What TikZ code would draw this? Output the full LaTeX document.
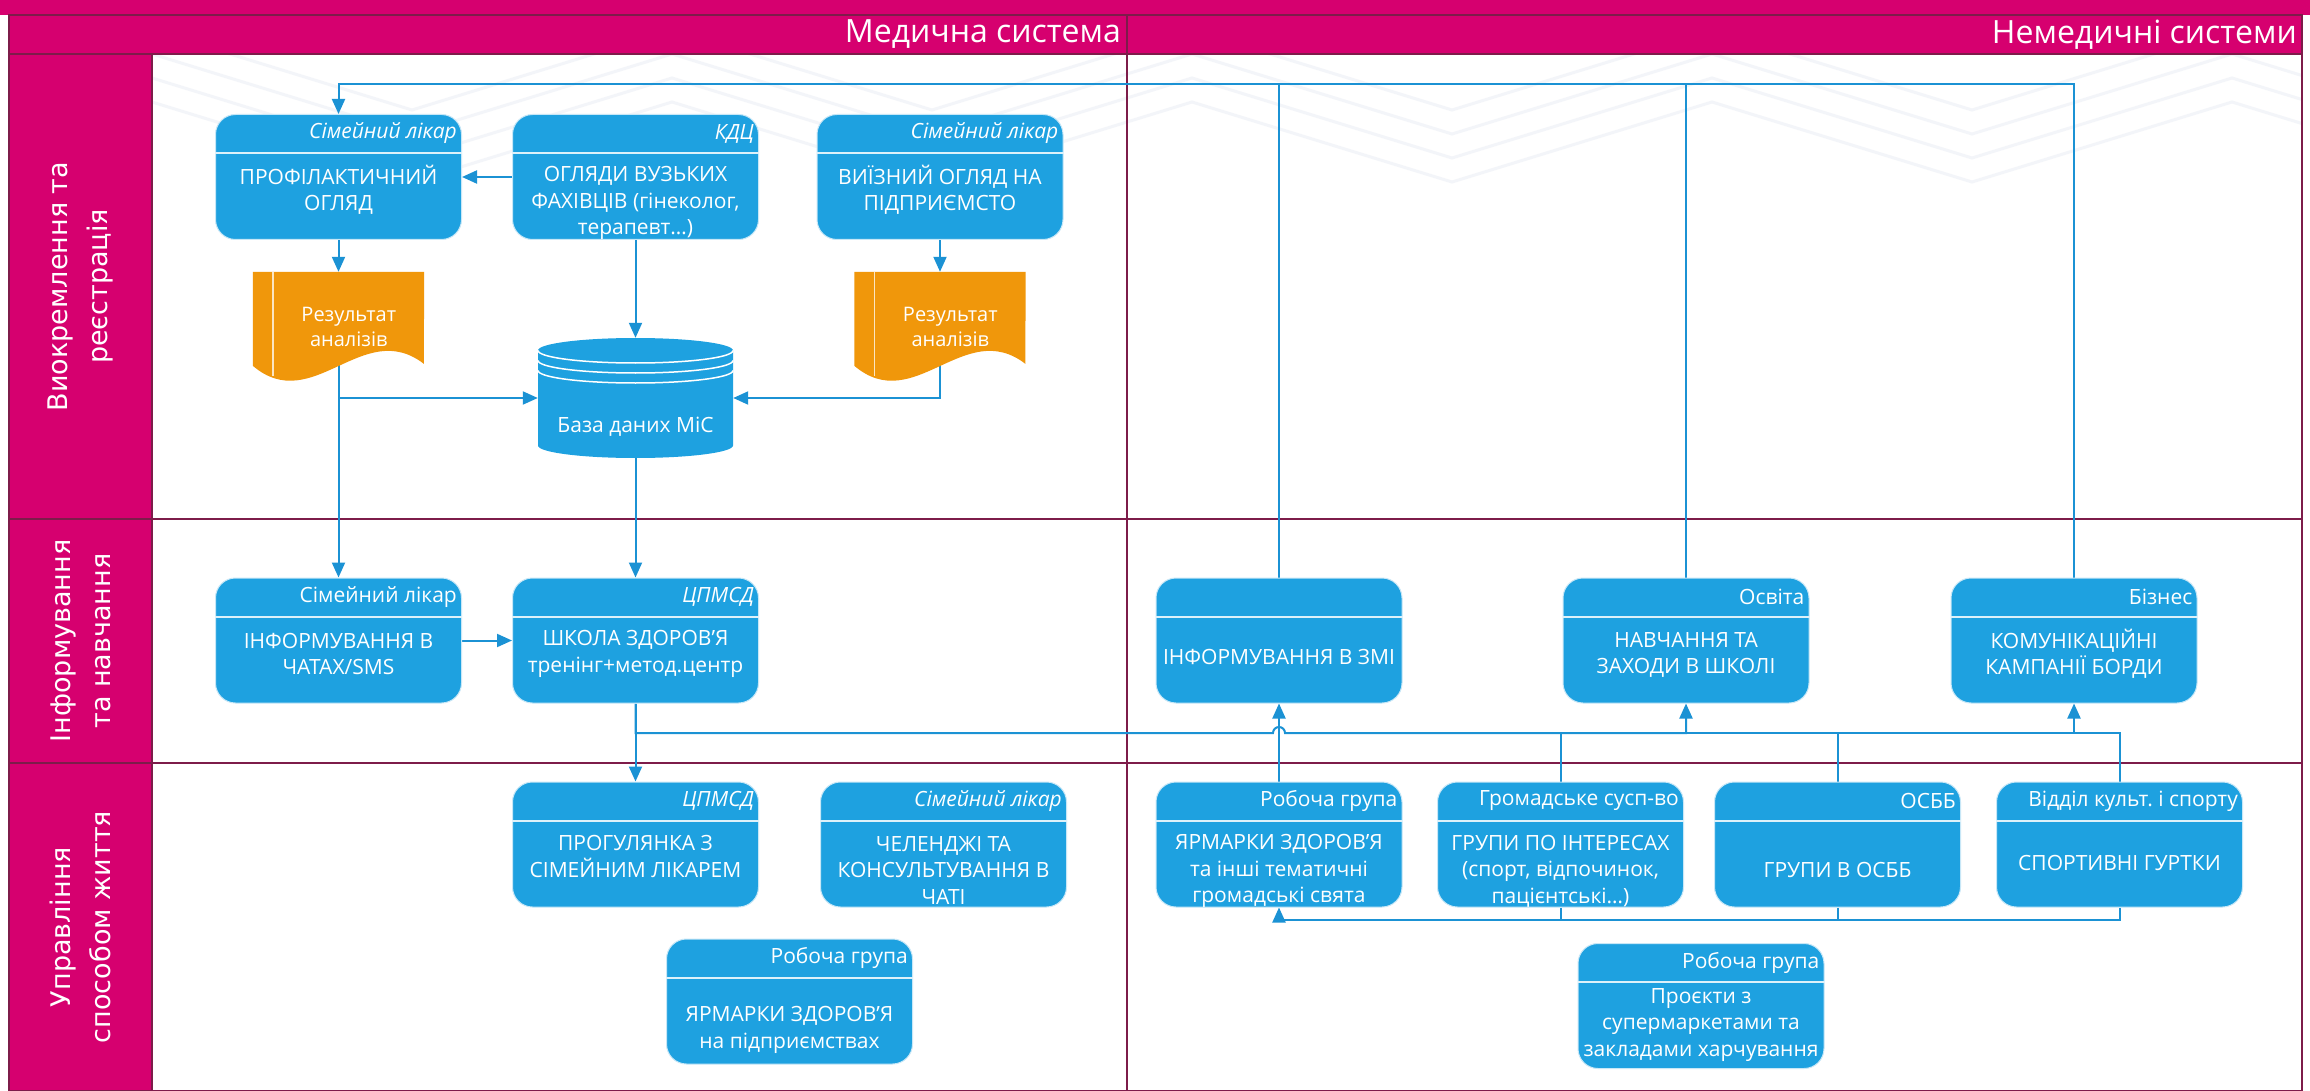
\documentclass[tikz,border=0pt]{standalone}
\usepackage{fontspec}
\setmainfont{Open Sans}
\newfontfamily\lanefont{DejaVu Sans}
\usetikzlibrary{arrows.meta}
\usetikzlibrary{positioning, calc}
\pgfdeclarelayer{canvas}
\pgfdeclarelayer{background}
\pgfsetlayers{canvas,background,main}
\frenchspacing

\definecolor{lanepink}{RGB}{214,0,111}
\definecolor{laneline}{RGB}{125,28,74}
\definecolor{boxblue}{RGB}{30,161,224}
\definecolor{connblue}{RGB}{27,146,212}
\definecolor{docorange}{RGB}{240,151,11}
\definecolor{chevron}{RGB}{243,245,249}

\tikzset{
  laneframe/.style={draw=laneline, line width=1.5pt},
  lanelabel/.style={text=white, rotate=90, align=center, inner sep=0pt,
    font=\lanefont\fontsize{27}{40}\selectfont},
  systitle/.style={text=white, anchor=east, inner sep=0pt,
    font=\fontsize{32}{38}\selectfont},
  procnode/.style={fill=boxblue, draw=white!75!boxblue, line width=1pt,
    rounded corners=20pt, minimum width=246pt, minimum height=125pt, inner sep=0pt},
  divline/.style={draw=white!85!boxblue, line width=2pt},
  headtext/.style={text=white, anchor=east, inner sep=0pt,
    font=\fontsize{21}{26.5}\selectfont},
  bodytext/.style={text=white, align=center, inner sep=0pt,
    font=\fontsize{21}{26.5}\selectfont},
  docnode/.style={minimum width=171pt, minimum height=108pt, inner sep=0pt},
  doctext/.style={text=white, align=center, inner sep=0pt,
    font=\fontsize{20}{25}\selectfont},
  dbnode/.style={minimum width=195pt, minimum height=120pt, inner sep=0pt},
  conn/.style={draw=connblue, line width=2pt},
  arr/.style={-{Triangle[length=15pt,width=13pt]}}
}

% box with header strip: name, centre, header, body, text drop
\newcommand{\procbox}[5]{%
  \node[procnode] (#1) at (#2) {};
  \draw[divline] ([yshift=-39pt]#1.north west) -- ([yshift=-39pt]#1.north east);
  \node[headtext] (#1-h) at ([xshift=-5pt,yshift=-19.5pt]#1.north east) {#3};
  \node[bodytext] (#1-b) at ([yshift=-#5pt]#1.center) {#4};
}

% document with wavy bottom: name, centre, text
\newcommand{\docshape}[3]{%
  \node[docnode] (#1) at (#2) {};
  \fill[docorange] (#1.north west) -- (#1.north east) -- ($(#1.north west)+(171,92)$)
    .. controls ($(#1.north west)+(110,45)$) and ($(#1.north west)+(60,145)$) .. ($(#1.north west)+(0,94)$) -- cycle;
  \draw[white!75!docorange, line width=1.5pt] ($(#1.north west)+(20,0)$) -- ($(#1.north west)+(20,104)$);
  \node[doctext] (#1-t) at ($(#1.north west)+(96,55)$) {#3};
}

\begin{document}
\begin{tikzpicture}[x=1pt,y=-1pt]
  \useasboundingbox (0,0) rectangle (2310,1091);

  % LANES
  \begin{pgfonlayer}{canvas}
    \fill[white] (0,0) rectangle (2310,1091);
    \begin{scope}
      \clip (152,54) rectangle (2302,519);
      \foreach \o in {0,24,48,72} {
        \draw[chevron, line width=3pt] (152,{30+\o})
          \foreach \k in {1,...,9} { -- ({152+\k*260},{30+\o+mod(\k,2)*80}) };
      }
    \end{scope}
    \fill[lanepink] (0,0) rectangle (2310,15); % top bar
    \fill[lanepink] (9,15) rectangle (2302,54); % systems
    \fill[lanepink] (9,54) rectangle (152,1091); % lane labels
    \draw[laneframe] (9,15) rectangle (2302,1091);
    \draw[laneframe] (9,54) -- (2302,54);
    \draw[laneframe] (9,519) -- (2302,519);
    \draw[laneframe] (9,763) -- (2302,763);
    \draw[laneframe] (152,54) -- (152,1091);
    \draw[laneframe] (1127,15) -- (1127,1091);
  \end{pgfonlayer}

  \node[systitle] (medsys) at (1121,34.5) {Медична система};
  \node[systitle] (nonmedsys) at (2297,34.5) {Немедичні системи};

  \node[lanelabel] (lane1) at (80.5,286.5) {Виокремлення та\\реєстрація};
  \node[lanelabel] (lane2) at (80.5,641) {Інформування\\та навчання};
  \node[lanelabel] (lane3) at (80.5,927) {Управління\\способом життя};

  % SELECTION AND REGISTRATION
  \procbox{prof}{338.5,177}{\textit{Сімейний лікар}}{ПРОФІЛАКТИЧНИЙ\\ОГЛЯД}{13}
  \procbox{kdc}{635.5,177}{\textit{КДЦ}}{ОГЛЯДИ ВУЗЬКИХ\\ФАХІВЦІВ (гінеколог,\\терапевт…)}{26}
  \procbox{visit}{940,177}{\textit{Сімейний лікар}}{ВИЇЗНИЙ ОГЛЯД НА\\ПІДПРИЄМСТО}{13}

  \docshape{doc1}{338.5,326}{Результат\\аналізів}
  \docshape{doc2}{940,326}{Результат\\аналізів}

  \node[dbnode] (db) at (635.5,398) {};
  \fill[boxblue] (538,350.5) -- (538,445.5)
    arc[start angle=180, end angle=0, x radius=97.5, y radius=12.5] -- (733,350.5)
    arc[start angle=0, end angle=-180, x radius=97.5, y radius=12.5] -- cycle;
  \foreach \dy in {0,10,20}
    \draw[white, line width=1.5pt] (538,{350.5+\dy})
      arc[start angle=180, end angle=0, x radius=97.5, y radius=12.5];
  \node[doctext, font=\fontsize{21}{26}\selectfont] (db-t) at (635.5,427) {База даних МіС};

  % INFORMING AND TRAINING
  \procbox{chat}{338.5,640.5}{Сімейний лікар}{ІНФОРМУВАННЯ В\\ЧАТАХ/SMS}{13.5}
  \procbox{school}{635.5,640.5}{\textit{ЦПМСД}}{ШКОЛА ЗДОРОВ’Я\\тренінг+метод.центр}{13.5}
  \procbox{media}{1279,640.5}{}{ІНФОРМУВАННЯ В ЗМІ}{16.5}
  \procbox{edu}{1686,640.5}{Освіта}{НАВЧАННЯ ТА\\ЗАХОДИ В ШКОЛІ}{14.5}
  \procbox{biz}{2074,640.5}{Бізнес}{КОМУНІКАЦІЙНІ\\КАМПАНІЇ БОРДИ}{13.5}

  % LIFESTYLE
  \procbox{walk}{635.5,844.5}{\textit{ЦПМСД}}{ПРОГУЛЯНКА З\\СІМЕЙНИМ ЛІКАРЕМ}{12}
  \procbox{chall}{943.5,844.5}{\textit{Сімейний лікар}}{ЧЕЛЕНДЖІ ТА\\КОНСУЛЬТУВАННЯ В\\ЧАТІ}{25.5}
  \procbox{fairent}{789.5,1001.5}{Робоча група}{ЯРМАРКИ ЗДОРОВ’Я\\на підприємствах}{28.5}
  \procbox{fair}{1279,844.5}{Робоча група}{ЯРМАРКИ ЗДОРОВ’Я\\та інші тематичні\\громадські свята}{26.5}
  \procbox{civic}{1560.5,844.5}{Громадське сусп-во}{ГРУПИ ПО ІНТЕРЕСАХ\\(спорт, відпочинок,\\пацієнтські…)}{26.5}
  \procbox{osbb}{1837.5,844.5}{ОСББ}{ГРУПИ В ОСББ}{25.5}
  \procbox{sport}{2119.5,844.5}{Відділ культ. і спорту}{СПОРТИВНІ ГУРТКИ}{18.5}
  \procbox{market}{1701,1006}{Робоча група}{Проєкти з\\супермаркетами та\\закладами харчування}{19}

  % CONNECTORS
  \coordinate (fb) at (338.5,84);
  \coordinate (busE) at (1686,733);
  \coordinate (busB) at (2074,733);
  \coordinate (busF) at (1279,920);
  \begin{pgfonlayer}{background}
    \draw[conn,arr] (biz.north) |- (fb) -- (prof.north);
    \draw[conn] (media.north) |- (fb);
    \draw[conn] (edu.north) |- (fb);

    \draw[conn,arr] (kdc.west) -- (prof.east);
    \draw[conn,arr] (prof.south) -- (doc1.north);
    \draw[conn,arr] (visit.south) -- (doc2.north);
    \draw[conn,arr] (kdc.south) -- (db.north);
    \draw[conn,arr] (doc1.center) |- (db.west);
    \draw[conn,arr] (doc2.center) |- (db.east);
    \draw[conn,arr] (doc1.center) -- (chat.north);
    \draw[conn,arr] (db.south) -- (school.north);
    \draw[conn,arr] (chat.east) -- (school.west);

    \draw[conn,arr] (school.south) -- (walk.north);
    \draw[conn,arr] (school.south) |- ($(media.south |- busE)+(-6,0)$)
      arc[start angle=180, end angle=360, radius=6] -| (edu.south);
    \draw[conn,arr] (busE) -- (busB) -- (biz.south);
    \draw[conn,arr] (fair.north) -- (media.south);
    \draw[conn] (civic.north) |- (busE);
    \draw[conn] (osbb.north) |- (busB);
    \draw[conn] (sport.north) |- (busB);

    \draw[conn,arr] (sport.south) |- (busF) -- (fair.south);
    \draw[conn] (civic.south) |- (busF);
    \draw[conn] (osbb.south) |- (busF);
  \end{pgfonlayer}
\end{tikzpicture}
\end{document}
